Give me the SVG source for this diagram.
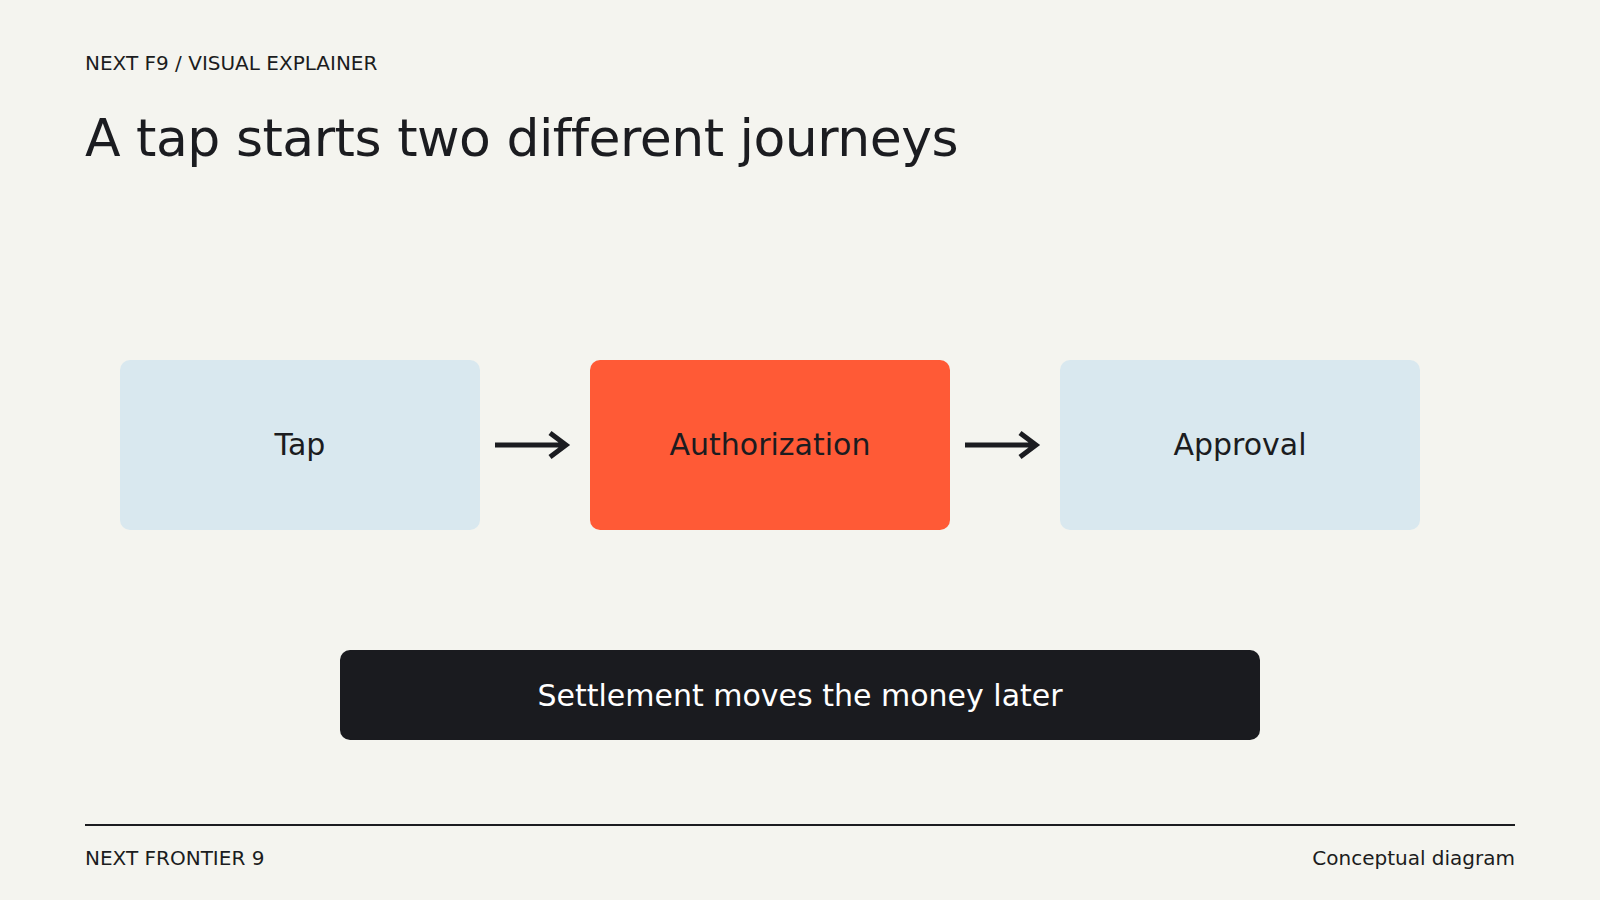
<svg xmlns="http://www.w3.org/2000/svg" width="1600" height="900" viewBox="0 0 1600 900">
<style>
text{font-family:"DejaVu Sans","Liberation Sans",sans-serif;fill:#1b1c20}
.small{font-size:20px}
.label{font-size:30px;text-anchor:middle}
.light{fill:#d9e8ef}
.conn{stroke:#1b1c20;stroke-width:5;fill:none}
</style>
<rect width="1600" height="900" fill="#f4f4ef"/>
<g id="header">
<text class="small" x="85" y="70">NEXT F9 / VISUAL EXPLAINER</text>
<text x="85" y="156" font-size="52" letter-spacing="-0.5">A tap starts two different journeys</text>
</g>
<g id="node-tap">
<rect class="light" x="120" y="360" width="360" height="170" rx="10"/>
<text class="label" x="300" y="455">Tap</text>
</g>
<g id="node-authorization">
<rect x="590" y="360" width="360" height="170" rx="10" fill="#ff5a36"/>
<text class="label" x="770" y="455">Authorization</text>
</g>
<g id="node-approval">
<rect class="light" x="1060" y="360" width="360" height="170" rx="10"/>
<text class="label" x="1240" y="455">Approval</text>
</g>
<g id="connectors">
<path class="conn" d="M495 445H566M550 433L566 445L550 457"/>
<path class="conn" d="M965 445H1036M1020 433L1036 445L1020 457"/>
</g>
<g id="node-settlement">
<rect x="340" y="650" width="920" height="90" rx="10" fill="#1a1b1f"/>
<text class="label" x="800" y="706" style="fill:#ffffff">Settlement moves the money later</text>
</g>
<g id="footer">
<line x1="85" y1="825" x2="1515" y2="825" stroke="#1b1c20" stroke-width="2"/>
<text class="small" x="85" y="865">NEXT FRONTIER 9</text>
<text class="small" x="1515" y="865" text-anchor="end">Conceptual diagram</text>
</g>
</svg>
